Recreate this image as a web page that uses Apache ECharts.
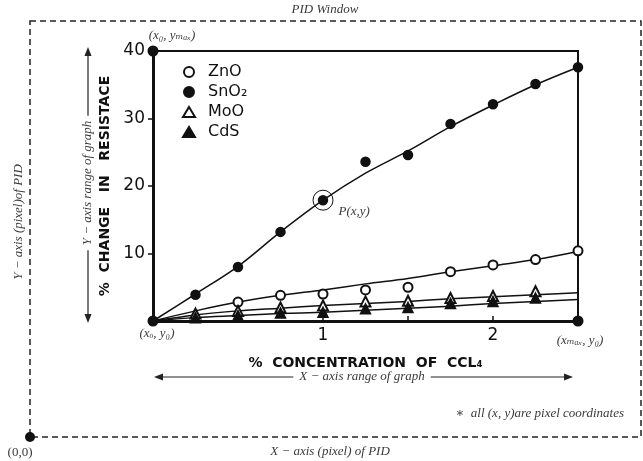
<!DOCTYPE html>
<html>
<head>
<meta charset="utf-8">
<script src="https://cdn.jsdelivr.net/npm/echarts@6/dist/echarts.min.js"></script>
<style>
html, body { margin: 0; padding: 0; background: #fff; }
#chart { width: 643px; height: 461px; }
</style>
</head>
<body>
<div id="chart"></div>
<script>
// concentration steps (% CCl4)
var xs = [0, 0.25, 0.5, 0.75, 1, 1.25, 1.5, 1.75, 2, 2.25, 2.5];

// measured points, null = not visible
var sno2Pts = [null, 3.9, 8.0, 13.2, 17.9, 23.6, 24.6, 29.2, 32.1, 35.1, 37.6];
var znoPts  = [null, null, 2.8, 3.8, 4.0, 4.6, 5.0, 7.3, 8.3, 9.1, 10.4];
var mooPts  = [null, 1.1, 1.5, 2.0, 2.3, 2.9, 3.0, 3.4, 3.7, 4.4, null];
var cdsPts  = [null, 0.5, 0.8, 1.2, 1.3, 1.8, 2.0, 2.6, 2.9, 3.4, null];

// drawn curves
var sno2Fit = [0, 4.0, 8.1, 13.2, 17.9, 21.9, 25.2, 28.8, 32.0, 35.0, 37.6];
var znoFit  = [0, 1.5, 2.8, 3.8, 4.6, 5.5, 6.3, 7.3, 8.2, 9.1, 10.3];
var mooFit  = [0, 0.9, 1.5, 1.9, 2.3, 2.6, 2.9, 3.3, 3.6, 3.9, 4.2];
var cdsFit  = [0, 0.5, 0.8, 1.1, 1.3, 1.6, 1.9, 2.2, 2.6, 2.9, 3.2];

var xTickLabels = ['1', '2'];
var yTickLabels = ['10', '20', '30', '40'];

// corner points of the graph and the marked point
var corners = [[0, 40], [0, 0], [2.5, 0]];
var pPoint = [1, 17.9];

function pairs(vals) {
	var res = [];
	for (var i = 0; i < xs.length; i++) {
		if (vals[i] != null) res.push([xs[i], vals[i]]);
	}
	return res;
}

var serif = '"Liberation Serif", "DejaVu Serif", serif';
var sans = '"DejaVu Sans", sans-serif';
var grey = '#3a3a3a';

function fitLine(name, vals) {
	return {
		name: name + ' fit',
		type: 'line',
		data: pairs(vals),
		smooth: 0.35,
		symbol: 'none',
		lineStyle: { color: '#111', width: 1.5 },
		z: 2,
		silent: true
	};
}

function pts(name, vals, symbol, size) {
	return {
		name: name,
		type: 'scatter',
		data: pairs(vals),
		symbol: symbol,
		symbolSize: size,
		itemStyle: { color: '#111', borderColor: '#111', borderWidth: 1.5, opacity: 1 },
		z: 4
	};
}

var chart = echarts.init(document.getElementById('chart'));

var option = {
	backgroundColor: '#fff',
	animation: false,
	grid: {
		left: 153, right: 65, top: 51, bottom: 140,
		show: true, borderColor: '#111', borderWidth: 2
	},
	legend: {
		orient: 'vertical',
		left: 177, top: 59,
		itemWidth: 12, itemHeight: 10, itemGap: 4,
		data: ['ZnO', 'SnO₂', 'MoO', 'CdS'],
		textStyle: { fontFamily: sans, fontSize: 16, color: '#111', padding: [0, 0, 0, 8] }
	},
	xAxis: {
		type: 'value', min: 0, max: 2.5, interval: 0.5,
		name: '%  CONCENTRATION  OF  CCL₄',
		nameLocation: 'middle', nameGap: 35,
		nameTextStyle: { fontFamily: sans, fontWeight: 'bold', fontSize: 14, color: '#111' },
		axisLine: { lineStyle: { color: '#111', width: 3 } },
		axisTick: { inside: true, length: 5, lineStyle: { color: '#111', width: 1.5 } },
		axisLabel: {
			margin: 6, fontFamily: sans, fontSize: 17, color: '#111',
			formatter: function(v) {
				var s = String(v);
				return xTickLabels.indexOf(s) >= 0 ? s : '';
			}
		},
		splitLine: { show: false }
	},
	yAxis: {
		type: 'value', min: 0, max: 40, interval: 10,
		name: '%  CHANGE   IN   RESISTACE',
		nameLocation: 'middle', nameGap: 29,
		nameTextStyle: { fontFamily: sans, fontWeight: 'bold', fontSize: 14, color: '#111' },
		axisLine: { lineStyle: { color: '#111', width: 3 } },
		axisTick: { length: 5, lineStyle: { color: '#111', width: 1.5 } },
		axisLabel: {
			margin: 8, fontFamily: sans, fontSize: 17, color: '#111',
			formatter: function(v) {
				var s = String(v);
				return yTickLabels.indexOf(s) >= 0 ? s : '';
			}
		},
		splitLine: { show: false }
	},
	series: [
		fitLine('SnO₂', sno2Fit),
		fitLine('ZnO', znoFit),
		fitLine('MoO', mooFit),
		fitLine('CdS', cdsFit),
		{
			name: 'P',
			type: 'scatter',
			data: [pPoint],
			symbol: 'circle',
			symbolSize: 20,
			itemStyle: { color: 'rgba(0,0,0,0)', borderColor: '#111', borderWidth: 1, opacity: 1 },
			label: {
				show: true, position: 'right', offset: [0, 11],
				formatter: 'P(x,y)',
				fontFamily: serif, fontStyle: 'italic', fontSize: 13, color: grey
			},
			z: 3
		},
		pts('ZnO', znoPts, 'emptyCircle', 9),
		pts('SnO₂', sno2Pts, 'circle', 9),
		pts('MoO', mooPts, 'emptyTriangle', 10),
		pts('CdS', cdsPts, 'triangle', 10),
		{
			name: 'corners',
			type: 'scatter',
			symbolSize: 11,
			itemStyle: { color: '#111', opacity: 1 },
			z: 6,
			label: { fontFamily: serif, fontStyle: 'italic', fontSize: 13, color: grey },
			data: [
				{ value: corners[0], label: { show: true, position: 'top', offset: [19, 2], formatter: '(x₀, yₘₐₓ)' } },
				{ value: corners[1], label: { show: true, position: 'bottom', offset: [4, -4], formatter: '(xₒ, y₀)' } },
				{ value: corners[2], label: { show: true, position: 'bottom', offset: [2, 3], formatter: '(xₘₐₓ, y₀)' } }
			]
		}
	],
	graphic: [
		// PID window frame
		{ type: 'rect', shape: { x: 30, y: 21, width: 611, height: 416 },
		  style: { fill: 'none', stroke: '#222', lineWidth: 1.5, lineDash: [6, 4] }, z: 0 },
		{ type: 'circle', shape: { cx: 30, cy: 437, r: 5 }, style: { fill: '#111' } },
		{ type: 'text', x: 20, y: 453, style: { text: '(0,0)', font: '13px ' + serif, fill: grey, textAlign: 'center', textVerticalAlign: 'middle' } },
		{ type: 'text', x: 325, y: 10, style: { text: 'PID Window', font: 'italic 13px ' + serif, fill: grey, textAlign: 'center', textVerticalAlign: 'middle' } },
		{ type: 'text', x: 330, y: 452, style: { text: 'X − axis (pixel) of PID', font: 'italic 13px ' + serif, fill: grey, textAlign: 'center', textVerticalAlign: 'middle' } },
		{ type: 'text', x: 19, y: 222, rotation: Math.PI / 2, style: { text: 'Y − axis (pixel)of PID', font: 'italic 13px ' + serif, fill: grey, textAlign: 'center', textVerticalAlign: 'middle' } },
		{ type: 'text', x: 624, y: 414, style: { text: '∗  all (x, y)are pixel coordinates', font: 'italic 13px ' + serif, fill: grey, textAlign: 'right', textVerticalAlign: 'middle' } },
		// Y range arrow
		{ type: 'line', shape: { x1: 88, y1: 52, x2: 88, y2: 318 }, style: { stroke: '#222', lineWidth: 1.2 } },
		{ type: 'polygon', shape: { points: [[88, 47], [84.5, 56], [91.5, 56]] }, style: { fill: '#222' } },
		{ type: 'polygon', shape: { points: [[88, 323], [84.5, 314], [91.5, 314]] }, style: { fill: '#222' } },
		{ type: 'text', x: 88, y: 183, rotation: Math.PI / 2, z: 10, style: { text: 'Y − axis range of graph', font: 'italic 13px ' + serif, fill: grey, textAlign: 'center', textVerticalAlign: 'middle', backgroundColor: '#fff', padding: [0, 5] } },
		// X range arrow
		{ type: 'line', shape: { x1: 159, y1: 377, x2: 568, y2: 377 }, style: { stroke: '#222', lineWidth: 1.2 } },
		{ type: 'polygon', shape: { points: [[154, 377], [163, 373.5], [163, 380.5]] }, style: { fill: '#222' } },
		{ type: 'polygon', shape: { points: [[573, 377], [564, 373.5], [564, 380.5]] }, style: { fill: '#222' } },
		{ type: 'text', x: 362, y: 377, z: 10, style: { text: 'X − axis range of graph', font: 'italic 13px ' + serif, fill: grey, textAlign: 'center', textVerticalAlign: 'middle', backgroundColor: '#fff', padding: [0, 6] } }
	]
};

chart.setOption(option);
</script>
</body>
</html>
